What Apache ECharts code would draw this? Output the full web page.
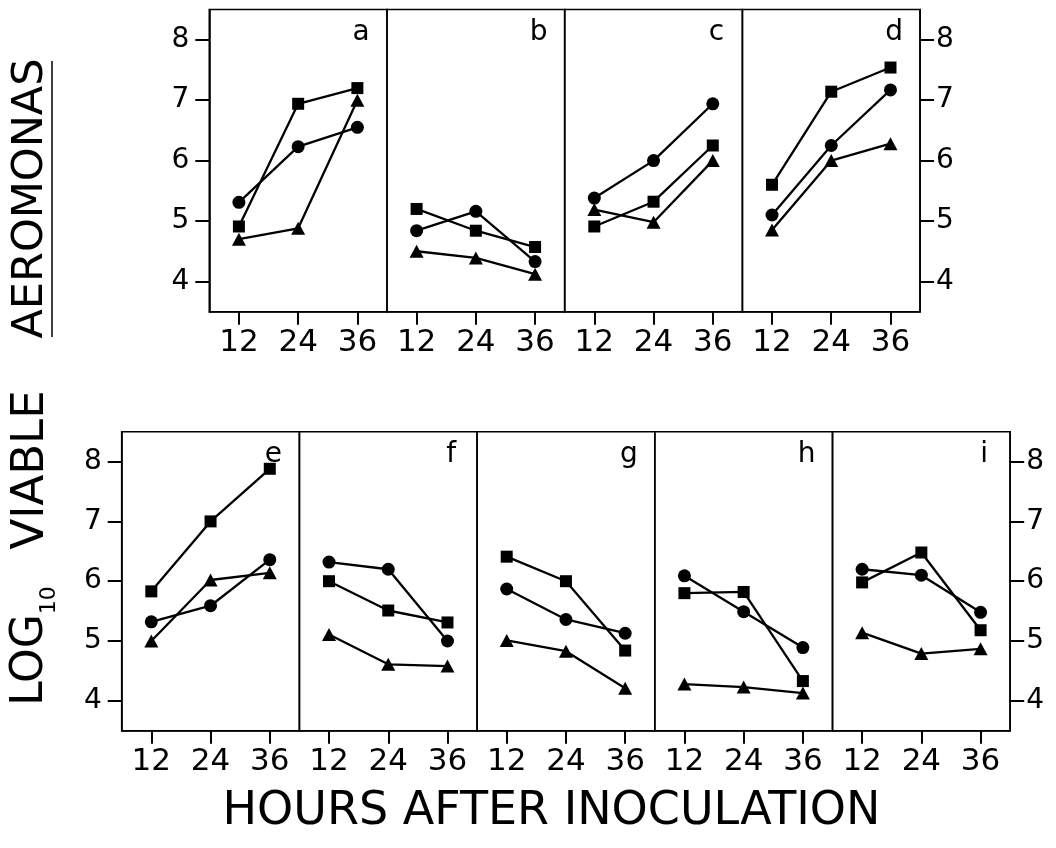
<!DOCTYPE html>
<html>
<head>
<meta charset="utf-8">
<script src="https://cdn.jsdelivr.net/npm/echarts@6/dist/echarts.min.js"></script>
<style>
  html, body { margin: 0; padding: 0; background: #fff; }
  #chart { width: 1056px; height: 848px; }
</style>
</head>
<body>
<div id="chart"></div>
<script>
// ---- data ----
const panelLetters = ['a', 'b', 'c', 'd', 'e', 'f', 'g', 'h', 'i'];
const hours = [12, 24, 36];
const xTicks = [12, 24, 36];
const yTicks = [4, 5, 6, 7, 8];
// values per panel (a..i), at 12, 24, 36 h
const circles = [
  [5.31, 6.23, 6.55], [4.84, 5.16, 4.33], [5.38, 6.00, 6.94], [5.10, 6.25, 7.17],
  [5.32, 5.59, 6.36], [6.32, 6.20, 5.00], [5.87, 5.36, 5.13], [6.09, 5.49, 4.89], [6.20, 6.10, 5.48]
];
const squares = [
  [4.91, 6.94, 7.20], [5.20, 4.84, 4.57], [4.91, 5.32, 6.25], [5.60, 7.14, 7.54],
  [5.83, 7.00, 7.88], [6.00, 5.51, 5.31], [6.41, 6.00, 4.84], [5.80, 5.82, 4.33], [5.98, 6.48, 5.18]
];
const triangles = [
  [4.70, 4.88, 7.00], [4.50, 4.39, 4.12], [5.19, 4.98, 6.00], [4.85, 6.00, 6.28],
  [5.00, 6.02, 6.14], [5.11, 4.61, 4.58], [5.01, 4.83, 4.21], [4.28, 4.23, 4.13], [5.14, 4.79, 4.87]
];
const xTitle = 'HOURS AFTER INOCULATION';

// ---- layout ----
const FONT = 'DejaVu Sans';
const X_MIN = 6, X_MAX = 42, Y_MIN = 3.5, Y_MAX = 8.5;
const PW = 177.7;
const rows = [
  { left: 209.3, top: 9.5, height: 302.2, panels: [0, 1, 2, 3] },
  { left: 121.7, top: 431.7, height: 299, panels: [4, 5, 6, 7, 8] }
];

const grids = [], xAxes = [], yAxes = [], series = [], graphics = [];

rows.forEach(row => {
  row.panels.forEach((p, k) => {
    const left = row.left + k * PW;
    grids.push({ left: left, top: row.top, width: PW, height: row.height,
      show: true, borderColor: '#000', borderWidth: 1.6, backgroundColor: 'transparent' });
    xAxes.push({
      gridIndex: p, type: 'value', min: X_MIN, max: X_MAX, position: 'bottom',
      axisLine: { show: true, onZero: false, lineStyle: { color: '#000', width: 1.6 } },
      splitLine: { show: false },
      axisTick: { show: true, customValues: xTicks, length: 13, lineStyle: { color: '#000', width: 2 } },
      axisLabel: { customValues: xTicks, fontSize: 31, color: '#000', margin: 16, fontFamily: FONT }
    });
    const isFirst = k === 0, isLast = k === row.panels.length - 1;
    yAxes.push({
      gridIndex: p, type: 'value', min: Y_MIN, max: Y_MAX,
      show: isFirst || isLast,
      position: isFirst ? 'left' : 'right',
      axisLine: { show: true, onZero: false, lineStyle: { color: '#000', width: 1.6 } },
      splitLine: { show: false },
      axisTick: { show: true, customValues: yTicks, length: 14, lineStyle: { color: '#000', width: 2 } },
      axisLabel: { customValues: yTicks, fontSize: 28, color: '#000', margin: isFirst ? 20 : 16, fontFamily: FONT }
    });
    graphics.push({
      type: 'text', x: left + PW - 26, y: row.top + 23,
      style: { text: panelLetters[p], font: '28px ' + FONT, fill: '#000', textAlign: 'center', textVerticalAlign: 'middle' }
    });
    const defs = [
      { vals: circles[p], symbol: 'circle', size: 13 },
      { vals: squares[p], symbol: 'rect', size: 12 },
      { vals: triangles[p], symbol: 'triangle', size: [14, 13] }
    ];
    defs.forEach(d => {
      series.push({
        type: 'line', xAxisIndex: p, yAxisIndex: p,
        data: hours.map((h, j) => [h, d.vals[j]]),
        symbol: d.symbol, symbolSize: d.size, showSymbol: true,
        lineStyle: { color: '#000', width: 2.3 },
        itemStyle: { color: '#000', borderWidth: 0 },
        emphasis: { disabled: true },
        silent: true
      });
    });
  });
});

// axis titles
graphics.push({
  type: 'text', x: 551.5, y: 812,
  style: { text: xTitle, font: '46px ' + FONT, fill: '#000', textAlign: 'center', textVerticalAlign: 'middle' }
});
graphics.push({
  type: 'text', x: 31, y: 198.5, rotation: Math.PI / 2,
  style: { text: 'AEROMONAS', font: '43px ' + FONT, fill: '#000', textAlign: 'center', textVerticalAlign: 'middle' }
});
graphics.push({
  type: 'text', x: 31, y: 470, rotation: Math.PI / 2,
  style: { text: 'VIABLE', font: '45px ' + FONT, fill: '#000', textAlign: 'center', textVerticalAlign: 'middle' }
});
graphics.push({
  type: 'text', x: 31, y: 646, rotation: Math.PI / 2,
  style: {
    text: '{m|LOG}{s|10}', textAlign: 'center', textVerticalAlign: 'middle',
    rich: {
      m: { fontSize: 44, fontFamily: FONT, color: '#000', lineHeight: 58, verticalAlign: 'middle' },
      s: { fontSize: 22, fontFamily: FONT, color: '#000', lineHeight: 22, verticalAlign: 'bottom' }
    }
  }
});
graphics.push({
  type: 'line', shape: { x1: 52, y1: 61, x2: 52, y2: 337 },
  style: { stroke: '#000', lineWidth: 1.5 }
});

const chart = echarts.init(document.getElementById('chart'), null, { renderer: 'canvas' });
chart.setOption({
  animation: false,
  backgroundColor: '#fff',
  grid: grids,
  xAxis: xAxes,
  yAxis: yAxes,
  series: series,
  graphic: graphics
});
</script>
</body>
</html>
